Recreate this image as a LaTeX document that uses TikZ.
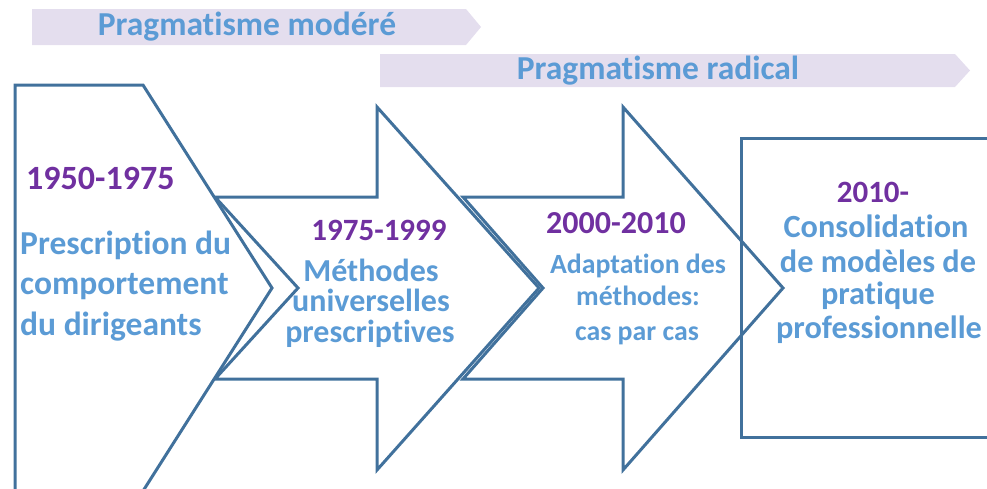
\documentclass[tikz,border=0pt]{standalone}
\usepackage{fontspec}
\setmainfont{Carlito}[Ligatures=NoCommon]
\definecolor{lineblue}{HTML}{41719C}
\definecolor{txtblue}{HTML}{5B9BD5}
\definecolor{yearpurple}{HTML}{7030A0}
\definecolor{bandfill}{HTML}{E4DEEE}
\begin{document}
\begin{tikzpicture}[x=1pt,y=-1pt,
  outline/.style={draw=lineblue, line width=3pt, line join=miter},
  bandshape/.style={fill=bandfill, draw=none},
  fs/.style={font=\bfseries\fontsize{#1}{#1}\selectfont},
  yeartxt/.style={text=yearpurple, inner sep=0pt, anchor=base},
  desctxt/.style={text=txtblue, inner sep=0pt, anchor=base},
  bandtxt/.style={text=txtblue, inner sep=0pt, anchor=base, fs=33.5}]
\useasboundingbox (0,0) rectangle (987,488);
\clip (0,0) rectangle (987,488);
% banners
\path[bandshape] (32,9) -- (466,9) -- (481,27) -- (466,45) -- (32,45) -- cycle;
\path[bandshape] (380,54) -- (955,54) -- (970,70.5) -- (955,87) -- (380,87) -- cycle;
\node[bandtxt] (b1) at (247,35.5) {Pragmatisme modéré};
\node[bandtxt] (b2) at (658,79.5) {Pragmatisme radical};
% shapes
\draw[outline] (15,85) -- (143,85) -- (272,288) -- (143,491) -- (15,491) -- cycle;
\draw[outline] (215,197) -- (377,197) -- (377,107) -- (539,288) -- (377,470) -- (377,379) -- (215,379) -- (298,288) -- cycle;
\draw[outline] (463,197) -- (623,197) -- (623,107) -- (783,288) -- (623,470) -- (623,379) -- (463,379) -- (543,288) -- cycle;
\draw[outline] (741,138) rectangle (1000,437);
% stage 1
\node[yeartxt, fs=34, anchor=base west] (y1) at (26,189) {1950-1975};
\node[desctxt, fs=33.5, anchor=base west] (d1a) at (20,254) {Prescription du};
\node[desctxt, fs=33.5, anchor=base west] (d1b) at (20,294) {comportement};
\node[desctxt, fs=33.5, anchor=base west] (d1c) at (20,335) {du dirigeants};
% stage 2
\node[yeartxt, fs=31] (y2) at (379,240) {1975-1999};
\node[desctxt, fs=32] (d2a) at (371,281.5) {Méthodes};
\node[desctxt, fs=32] (d2b) at (371,311.5) {universelles};
\node[desctxt, fs=32] (d2c) at (370,342) {prescriptives};
% stage 3
\node[yeartxt, fs=32] (y3) at (616,233) {2000-2010};
\node[desctxt, fs=27.8] (d3a) at (638,273) {Adaptation des};
\node[desctxt, fs=27.8] (d3b) at (638,305) {méthodes:};
\node[desctxt, fs=27.8] (d3c) at (637,340) {cas par cas};
% stage 4
\node[yeartxt, fs=31] (y4) at (873,202) {2010-};
\node[desctxt, fs=32.3] (d4a) at (876,237) {Consolidation};
\node[desctxt, fs=32.3] (d4b) at (878,272) {de modèles de};
\node[desctxt, fs=32.3] (d4c) at (878,304) {pratique};
\node[desctxt, fs=32.3] (d4d) at (879,338) {professionnelle};
\end{tikzpicture}
\end{document}
